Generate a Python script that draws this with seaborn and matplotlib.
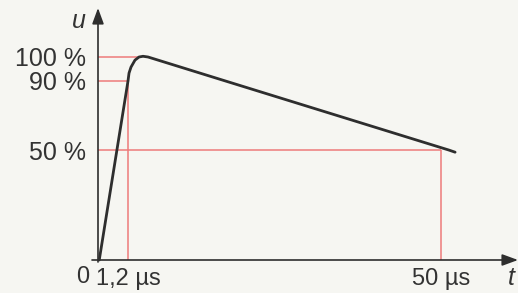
import numpy as np
import pandas as pd
import seaborn as sns
import matplotlib.pyplot as plt

# impulse wave 1,2 / 50 us (schematic)
t_us = [0.05, 1.2, 1.36, 1.67, 2.29, 2.92, 3.54, 4.32, 16.4, 51.2, 52.2]
u_pct = [0, 90, 93.3, 95.8, 98.7, 100, 100.3, 100, 90, 50, 49]

u_levels = [50, 90, 100]
u_labels = ["50 %", "90 %", "100 %"]
t_marks = [1.2, 50]
t_labels = ["1,2 µs", "50 µs"]
t_peak = 2.9

sns.set_style("white")
plt.rcParams["font.family"] = ["Liberation Sans", "DejaVu Sans"]

# the drawing is not to scale: piecewise linear axes
xp = [-1, 0, 1.2, 50, 80]
xf = [-25, 0, 30, 343, 343 + 30 * 6.414]
yp = [-10, 0, 50, 90, 100, 160]
yf = [-22, 0, 110, 179, 203, 203 + 60 * 2.4]

def fx(v):
    return np.interp(v, xp, xf)

def ix(v):
    return np.interp(v, xf, xp)

def fy(v):
    return np.interp(v, yp, yf)

def iy(v):
    return np.interp(v, yf, yp)

W, H = 518, 293
fig = plt.figure(figsize=(W / 100, H / 100), dpi=100)
fig.patch.set_facecolor("#f6f6f2")
ax = fig.add_axes([92 / W, 31 / H, (518 - 92) / W, (262 - 8) / H])
ax.set_facecolor("#f6f6f2")
ax.set_xscale("function", functions=(fx, ix))
ax.set_yscale("function", functions=(fy, iy))
ax.set_xlim(ix(-6), ix(420))
ax.set_ylim(iy(-2), iy(252))

red = "#ee7b7b"
dark = "#2e2e2e"

# guide lines
ax.hlines(u_levels[2], 0, t_peak, color=red, lw=1.1, zorder=1)
ax.hlines(u_levels[1], 0, t_marks[0], color=red, lw=1.1, zorder=1)
ax.hlines(u_levels[0], 0, t_marks[1], color=red, lw=1.1, zorder=1)
ax.vlines(t_marks[0], 0, u_levels[1], color=red, lw=1.1, zorder=1)
ax.vlines(t_marks[1], 0, u_levels[0], color=red, lw=1.1, zorder=1)

df = pd.DataFrame({"t": t_us, "u": u_pct})
sns.lineplot(data=df, x="t", y="u", ax=ax, color=dark, lw=2.0,
             sort=False, estimator=None, zorder=3)

for s in ax.spines.values():
    s.set_visible(False)

arrow = dict(arrowstyle="-|>,head_length=0.6,head_width=0.22", lw=1.2,
             color=dark, mutation_scale=16, shrinkA=0, shrinkB=0)
ax.annotate("", xy=(0, 1), xycoords=("data", "axes fraction"),
            xytext=(0, 0), textcoords=("data", "axes fraction"), arrowprops=arrow)
ax.annotate("", xy=(1, 0), xycoords=("axes fraction", "data"),
            xytext=(0, 0), textcoords=("axes fraction", "data"), arrowprops=arrow)

ax.set_yticks(u_levels, u_labels)
ax.set_xticks(t_marks, t_labels)
ax.tick_params(axis="y", length=4, width=1.1, color=red, pad=0, labelsize=18,
               labelcolor="#333333")
ax.tick_params(axis="x", length=2, width=1.1, color=red, pad=2, labelsize=17,
               labelcolor="#333333")
ax.set_xlabel("")
ax.set_ylabel("")

ax.annotate("0", xy=(0, 0), xytext=(-15, -6), textcoords="offset pixels",
            ha="center", va="top", fontsize=17, color="#333333")
fig.text(79 / W, 1 - 21 / H, "u", style="italic", fontsize=18,
         ha="center", va="center", color="#333333")
fig.text(511 / W, 1 - 278 / H, "t", style="italic", fontsize=18,
         ha="center", va="center", color="#333333")

fig.savefig("out.png", dpi=100, facecolor=fig.get_facecolor())
